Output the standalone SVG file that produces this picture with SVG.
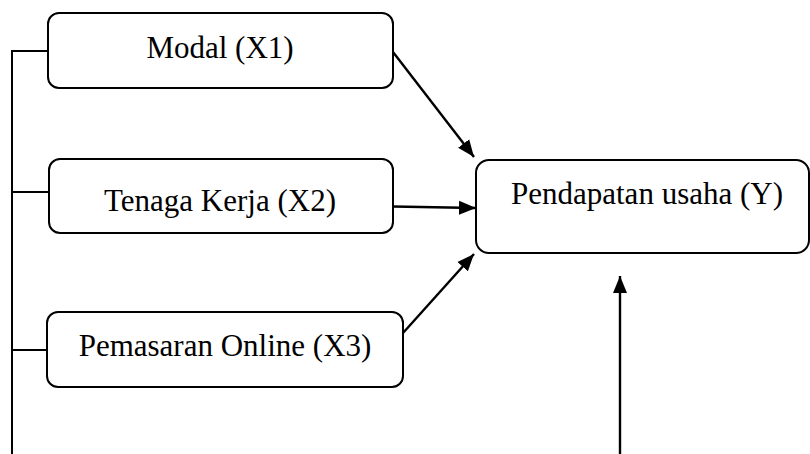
<svg xmlns="http://www.w3.org/2000/svg" width="810" height="454" viewBox="0 0 810 454">
  <style>
    .box { fill: #ffffff; stroke: #000000; stroke-width: 2; }
    .lbl { font-family: "Liberation Serif", "Times New Roman", serif; font-size: 31px; fill: #000000; text-anchor: middle; }
    .ln { fill: none; stroke: #000000; stroke-width: 2; }
    .arr { fill: none; stroke: #000000; stroke-width: 2.4; marker-end: url(#ah); }
  </style>
  <defs>
    <marker id="ah" markerUnits="userSpaceOnUse" markerWidth="18" markerHeight="15" refX="17" refY="7.5" orient="auto">
      <path d="M0,0.5 L17,7.5 L0,14.5 z" fill="#000000"/>
    </marker>
  </defs>
  <rect width="810" height="454" fill="#ffffff"/>
  <g id="connectors">
    <path class="ln" d="M12,454 V51 H48"/>
    <path class="ln" d="M12,192 H48"/>
    <path class="ln" d="M12,350 H47"/>
    <line class="arr" x1="393" y1="52" x2="474" y2="157"/>
    <line class="arr" x1="393" y1="206.5" x2="476" y2="208"/>
    <line class="arr" x1="403" y1="333" x2="474" y2="254"/>
    <line class="arr" x1="620" y1="454" x2="620" y2="276"/>
  </g>
  <g id="modal">
    <rect class="box" x="48" y="13" width="345" height="75" rx="11"/>
    <text class="lbl" x="220" y="58">Modal (X1)</text>
  </g>
  <g id="tenaga">
    <rect class="box" x="49" y="159" width="344" height="74" rx="11"/>
    <text class="lbl" x="220" y="211">Tenaga Kerja (X2)</text>
  </g>
  <g id="pemasaran">
    <rect class="box" x="47" y="312" width="356" height="75" rx="11"/>
    <text class="lbl" x="225" y="356">Pemasaran Online (X3)</text>
  </g>
  <g id="pendapatan">
    <rect class="box" x="476" y="160" width="333" height="93" rx="13"/>
    <text class="lbl" x="647" y="204">Pendapatan usaha (Y)</text>
  </g>
</svg>
